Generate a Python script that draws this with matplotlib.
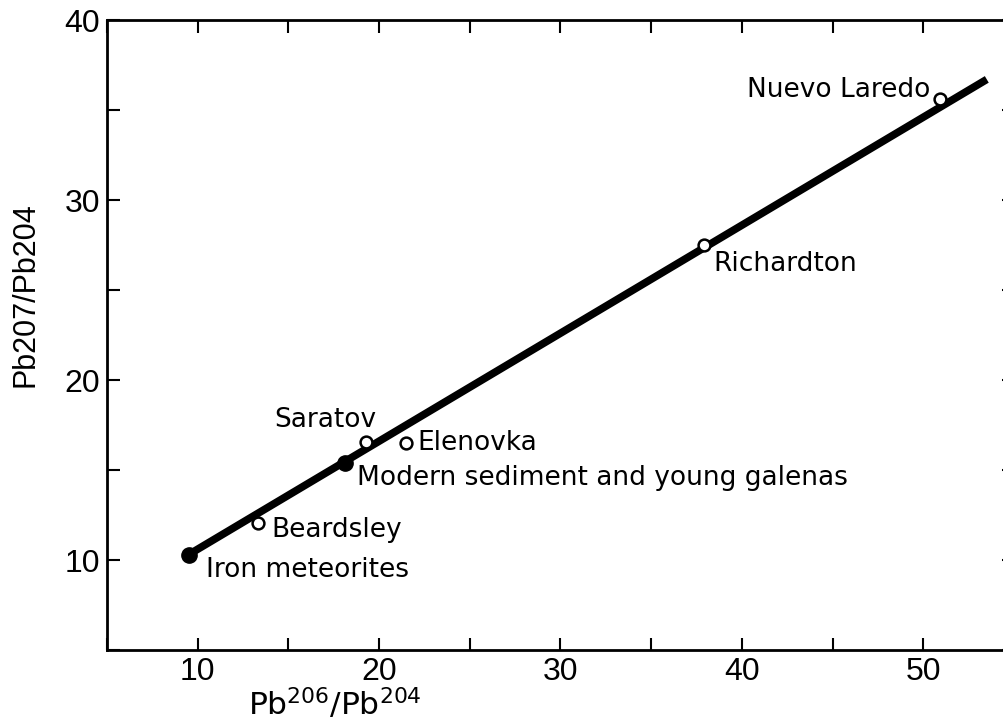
import matplotlib
matplotlib.use("Agg")
import matplotlib.pyplot as plt
from matplotlib.ticker import MultipleLocator, FuncFormatter

# Pb isotope data (meteorites and terrestrial lead)
names = ["Iron meteorites", "Beardsley", "Modern sediment and young galenas",
         "Saratov", "Elenovka", "Richardton", "Nuevo Laredo"]
pb206_204 = [9.5, 13.3, 18.1, 19.3, 21.5, 37.9, 50.9]
pb207_204 = [10.3, 12.05, 15.4, 16.55, 16.5, 27.5, 35.6]
filled = [True, False, True, False, False, False, False]

# isochron end points
line_x = [9.5, 53.5]
line_y = [10.3, 36.7]

# label offsets in pixels (dx, dy, ha)
offsets = {
    "Iron meteorites": (17, -15, "left"),
    "Beardsley": (14, -7, "left"),
    "Modern sediment and young galenas": (12, -15, "left"),
    "Saratov": (10, 22, "right"),
    "Elenovka": (11, 0, "left"),
    "Richardton": (10, -19, "left"),
    "Nuevo Laredo": (-9, 9, "right"),
}

ann_font = "DejaVu Sans"
tick_font = "Liberation Sans"
plt.rcParams["mathtext.fontset"] = "custom"
plt.rcParams["mathtext.rm"] = ann_font

fig = plt.figure(figsize=(10.04, 7.24), dpi=100)
ax = fig.add_axes([107 / 1004, 74 / 724, 907 / 1004, 630 / 724])

ax.plot(line_x, line_y, color="black", linewidth=5.5, solid_capstyle="butt", zorder=2)

for x, y, f in zip(pb206_204, pb207_204, filled):
    if f:
        ax.plot(x, y, "o", markersize=11, color="black", zorder=3)
    else:
        ax.plot(x, y, "o", markersize=8.5, markerfacecolor="white",
                markeredgecolor="black", markeredgewidth=1.8, zorder=3)

for name, x, y in zip(names, pb206_204, pb207_204):
    dx, dy, ha = offsets[name]
    ax.annotate(name, (x, y), xytext=(dx, dy), textcoords="offset pixels",
                ha=ha, va="center", fontsize=19, family=ann_font)

ax.set_xlim(5, 55)
ax.set_ylim(5, 40)
ax.xaxis.set_major_locator(MultipleLocator(5))
ax.yaxis.set_major_locator(MultipleLocator(5))
fmt = FuncFormatter(lambda v, p: "%d" % v if v % 10 == 0 else "")
ax.xaxis.set_major_formatter(fmt)
ax.yaxis.set_major_formatter(fmt)
ax.tick_params(direction="in", length=9, width=1.5, top=True, right=True,
               labelsize=23, pad=5)
for lab in ax.get_xticklabels() + ax.get_yticklabels():
    lab.set_family(tick_font)
for sp in ax.spines.values():
    sp.set_linewidth(2)

fig.text(335 / 1004, 1 - 715 / 724, r"Pb$^{206}$/Pb$^{204}$", ha="center",
         va="baseline", fontsize=22.5, family=ann_font)
fig.text(26 / 1004, 1 - 295 / 724, "Pb207/Pb204", rotation=90, ha="center",
         va="center", fontsize=22, family=tick_font)

fig.savefig("out.png", dpi=100)
